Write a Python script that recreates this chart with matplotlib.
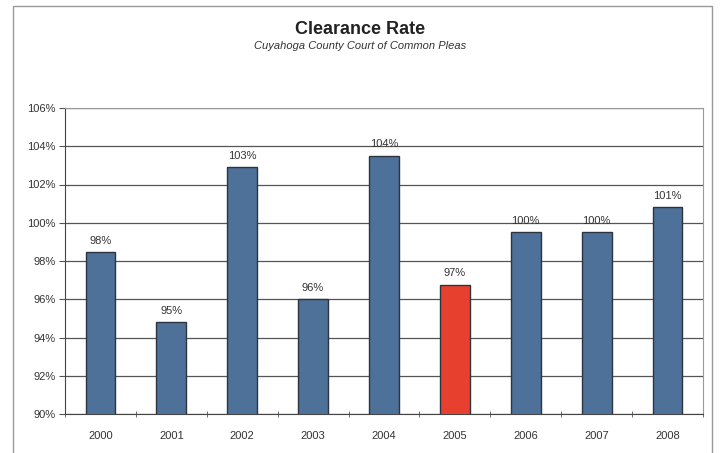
import matplotlib.pyplot as plt
import numpy as np
from matplotlib.patches import Rectangle

years = ['2000', '2001', '2002', '2003', '2004', '2005', '2006', '2007', '2008']
rates = [98.45, 94.8, 102.9, 96.0, 103.5, 96.75, 99.5, 99.5, 100.8]
labels = ['98%', '95%', '103%', '96%', '104%', '97%', '100%', '100%', '101%']
highlight = '2005'

fig = plt.figure(figsize=(7.21, 4.53), dpi=100)
plt.rcParams['font.family'] = ['Liberation Sans', 'DejaVu Sans']

# outer chart border
fig.add_artist(Rectangle((13 / 721, -0.05), (712 - 13) / 721, 1.05 - 6 / 453,
                         transform=fig.transFigure, fill=False,
                         edgecolor='#9a9a9a', linewidth=1.0))

ax = fig.add_axes([65 / 721, 1 - 414 / 453, (703 - 65) / 721, (414 - 108) / 453])

x = np.arange(len(years))
colors = ['#e8402f' if y == highlight else '#4d7198' for y in years]
ax.bar(x, rates, width=0.42, bottom=0, color=colors, edgecolor='#2b3440',
       linewidth=1.0, zorder=3)

for xi, r, lab in zip(x, rates, labels):
    ax.text(xi, r + 0.35, lab, ha='center', va='bottom', fontsize=8, color='#333333')

ax.set_ylim(90, 106)
ax.set_xlim(-0.5, len(years) - 0.5)
ax.set_yticks(np.arange(90, 107, 2))
ax.set_yticklabels([f'{v}%' for v in range(90, 107, 2)], fontsize=8, color='#333333')
ax.set_xticks(x)
ax.set_xticklabels(years, fontsize=8, color='#333333')
ax.set_xticks(np.arange(-0.5, len(years), 1), minor=True)
ax.tick_params(axis='x', which='major', length=0, pad=12)
ax.tick_params(axis='x', which='minor', length=4, direction='inout', color='#555555')
ax.tick_params(axis='y', length=4, color='#555555', pad=3)
ax.grid(axis='y', color='#555555', linewidth=0.9, zorder=0)

for side in ['top', 'right']:
    ax.spines[side].set_color('#9a9a9a')
ax.spines['left'].set_color('#444444')
ax.spines['bottom'].set_color('#444444')

fig.text(0.5, 1 - 30 / 453, 'Clearance Rate', ha='center', va='center',
         fontsize=13, fontweight='bold', color='#222222')
fig.text(0.5, 1 - 46 / 453, 'Cuyahoga County Court of Common Pleas', ha='center',
         va='center', fontsize=8, style='italic', color='#333333')

fig.savefig('out.png', dpi=100)
